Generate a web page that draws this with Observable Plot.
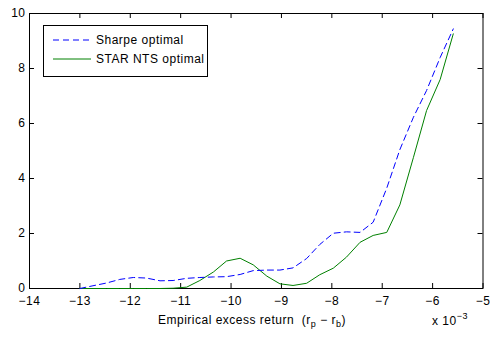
<!DOCTYPE html>
<html><head><meta charset="utf-8">
<script src="https://cdn.jsdelivr.net/npm/d3@7"></script>
<script src="https://cdn.jsdelivr.net/npm/@observablehq/plot@0.6"></script>
<style>
body{margin:0;background:#fff;}
#wrap{position:relative;width:492px;height:338px;font-family:"Liberation Sans",Arial,sans-serif;}
#legend{position:absolute;left:43px;top:25px;width:163px;height:50px;border:1px solid #000;background:#fff;font-size:12px;letter-spacing:0.5px;color:#000;}
#legend .row{position:absolute;left:9px;height:16px;display:flex;align-items:center;white-space:nowrap;}
#legend svg{margin-right:5px;}
</style></head><body><div id="wrap"></div>
<script>
// Empirical excess return (x 10^-3)
const returns = [-13.00, -12.74, -12.47, -12.21, -11.94, -11.68, -11.41, -11.15, -10.88, -10.62,
  -10.35, -10.09, -9.82, -9.56, -9.29, -9.03, -8.77, -8.50, -8.24, -7.97,
  -7.71, -7.44, -7.18, -6.91, -6.65, -6.38, -6.12, -5.85, -5.59];
const sharpe = [0.00, 0.10, 0.20, 0.33, 0.40, 0.38, 0.28, 0.29, 0.37, 0.40,
  0.42, 0.43, 0.51, 0.65, 0.67, 0.67, 0.75, 1.09, 1.60, 2.01,
  2.06, 2.04, 2.41, 3.65, 5.05, 6.23, 7.20, 8.40, 9.44];
const starNts = [0.00, 0.00, 0.00, 0.00, 0.00, 0.00, 0.00, 0.01, 0.05, 0.29,
  0.60, 1.00, 1.10, 0.86, 0.45, 0.17, 0.11, 0.19, 0.50, 0.74,
  1.14, 1.68, 1.93, 2.04, 3.04, 4.77, 6.47, 7.60, 9.26];
const seriesNames = ["Sharpe optimal", "STAR NTS optimal"];
const seriesColors = ["#0000ff", "#008000"];
const seriesDash = ["6,4", null];
const xTicks = [-14, -13, -12, -11, -10, -9, -8, -7, -6, -5];
const yTicks = [0, 2, 4, 6, 8, 10];
const xLabelMain = "Empirical excess return  (r";
const multiplierBase = "x 10";
const multiplierExp = "\u22123";

const sharpeRows = returns.map((x, i) => ({x, y: sharpe[i]}));
const starRows = returns.map((x, i) => ({x, y: starNts[i]}));
const fmt = d => (d < 0 ? "\u2212" : "") + Math.abs(d);
const font = '"Liberation Sans", Arial, sans-serif';

const W = 492, H = 338, mL = 29, mR = 9.5, mT = 13, mB = 50, TL = 5;
const innerW = W - mL - mR, innerH = H - mT - mB;

const chart = Plot.plot({
  width: W, height: H,
  marginLeft: mL, marginRight: mR, marginTop: mT, marginBottom: mB,
  style: {fontFamily: font, fontSize: "12px", letterSpacing: "0.5px", color: "#000", background: "#fff", overflow: "visible"},
  x: {domain: [-14, -5]},
  y: {domain: [0, 10]},
  marks: [
    Plot.frame({stroke: "#000", strokeWidth: 1}),
    Plot.tickX(xTicks, {x: d => d, stroke: "#000", insetTop: innerH - TL}),
    Plot.tickX(xTicks, {x: d => d, stroke: "#000", insetBottom: innerH - TL}),
    Plot.tickY(yTicks, {y: d => d, stroke: "#000", insetRight: innerW - TL}),
    Plot.tickY(yTicks, {y: d => d, stroke: "#000", insetLeft: innerW - TL}),
    Plot.line(starRows, {x: "x", y: "y", stroke: seriesColors[1], strokeWidth: 1}),
    Plot.line(sharpeRows, {x: "x", y: "y", stroke: seriesColors[0], strokeWidth: 1, strokeDasharray: seriesDash[0]}),
    Plot.axisX(xTicks, {anchor: "bottom", tickSize: 0, tickPadding: 8, tickFormat: fmt, label: null}),
    Plot.axisY(yTicks, {anchor: "left", tickSize: 0, tickPadding: 4, tickFormat: fmt, label: null})
  ]
});
document.getElementById("wrap").appendChild(chart);

const svg = d3.select(chart);
const lab = svg.append("text").attr("x", 252).attr("y", 324).attr("text-anchor", "middle")
  .attr("font-size", 12).attr("fill", "#000").style("white-space", "pre");
lab.append("tspan").text(xLabelMain);
lab.append("tspan").attr("dy", 3).attr("font-size", 9).text("p");
lab.append("tspan").attr("dy", -3).text(" \u2212 r");
lab.append("tspan").attr("dy", 3).attr("font-size", 9).text("b");
lab.append("tspan").attr("dy", -3).text(")");

const mult = svg.append("text").attr("x", 450).attr("y", 325).attr("font-size", 12).attr("fill", "#000");
mult.append("tspan").text(multiplierBase);
mult.append("tspan").attr("dy", -6).attr("font-size", 9).text(multiplierExp);

// legend
const legend = d3.select("#wrap").append("div").attr("id", "legend");
seriesNames.forEach((name, i) => {
  const row = legend.append("div").attr("class", "row").style("top", (6 + i * 19) + "px");
  const s = row.append("svg").attr("width", 38).attr("height", 10);
  s.append("line").attr("x1", 0).attr("x2", 38).attr("y1", 5).attr("y2", 5)
    .attr("stroke", seriesColors[i]).attr("stroke-width", 1)
    .attr("stroke-dasharray", seriesDash[i]);
  row.append("span").text(name);
});
</script></body></html>
